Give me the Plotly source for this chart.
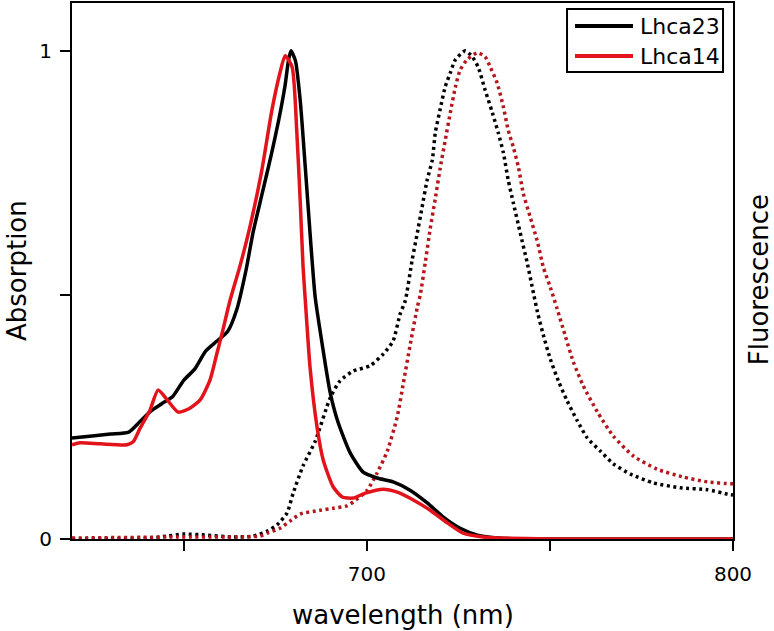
import plotly.graph_objects as go

# ---- Data ----
abs_lhca23_nm = [619.5, 625, 630, 635, 638, 641, 644, 647, 650, 653, 656, 659, 662, 664.5, 667, 669,
                 671.5, 674, 676, 677.7, 678.6, 679.3, 680.5, 681.8, 683.2, 684.5, 685.9, 687.8, 690,
                 692.2, 695.5, 699, 702.8, 707.2, 711.8, 716.5, 720.9, 725.5, 730.2, 736, 745, 760, 780, 800]
abs_lhca23_val = [0.207, 0.211, 0.215, 0.219, 0.240, 0.262, 0.277, 0.292, 0.325, 0.348, 0.385, 0.405, 0.425,
                  0.47, 0.55, 0.63, 0.71, 0.79, 0.86, 0.93, 0.98, 1.0, 0.98, 0.90, 0.762, 0.627, 0.496, 0.40,
                  0.30, 0.238, 0.176, 0.137, 0.125, 0.117, 0.10, 0.074, 0.045, 0.022, 0.008, 0.002, 0.0, 0.0,
                  0.0, 0.0]

abs_lhca14_nm = [619.5, 621.7, 627.2, 634.5, 636.2, 638.1, 640.8, 643.0, 645.5, 648.5, 651.7, 654.5, 657.2,
                 659.1, 660.5, 662.7, 665.4, 668.1, 671.2, 674.1, 676.3, 677.7, 679.6, 680.9, 681.8, 682.6,
                 683.2, 684.5, 686.4, 688.1, 690.8, 693.3, 696.3, 699.6, 704.5, 708.3, 712.7, 717.3, 722.0,
                 726.3, 731.8, 736.4, 750, 770, 800]
abs_lhca14_val = [0.193, 0.197, 0.195, 0.193, 0.199, 0.227, 0.264, 0.305, 0.285, 0.260, 0.268, 0.285, 0.326,
                  0.381, 0.422, 0.490, 0.560, 0.640, 0.75, 0.879, 0.955, 0.99, 0.967, 0.832, 0.695, 0.557,
                  0.49, 0.352, 0.230, 0.162, 0.107, 0.086, 0.084, 0.094, 0.102, 0.096, 0.080, 0.059, 0.033,
                  0.012, 0.004, 0.002, 0.0, 0.0, 0.0]

fl_lhca23_nm = [619.5, 630, 640.8, 645.5, 649.8, 656.4, 663.5, 669.0, 672.8, 675.5, 678.2, 679.9, 682.6,
                685.9, 690, 692.7, 696.3, 700.9, 704.5, 707.2, 709.1, 710.5, 712.4, 713.8, 715.1, 716.5,
                717.9, 718.7, 720.0, 721.4, 722.8, 724.2, 726.9, 728.8, 730.4, 732.3, 734.3, 735.9, 737.3,
                738.6, 740.0, 741.9, 743.8, 745.5, 746.6, 748.2, 750.1, 752.3, 754.7, 757.5, 760.2, 763.8,
                767.3, 772.0, 778.2, 785.6, 793.0, 798.5, 800]
fl_lhca23_val = [0.0, 0.001, 0.002, 0.006, 0.010, 0.008, 0.004, 0.006, 0.016, 0.029, 0.053, 0.094, 0.15,
                 0.20, 0.289, 0.324, 0.344, 0.355, 0.379, 0.406, 0.461, 0.488, 0.572, 0.627, 0.680, 0.736,
                 0.777, 0.832, 0.879, 0.926, 0.955, 0.982, 1.0, 0.988, 0.967, 0.920, 0.873, 0.832, 0.791,
                 0.736, 0.689, 0.627, 0.566, 0.504, 0.465, 0.418, 0.369, 0.324, 0.283, 0.242, 0.207, 0.180,
                 0.154, 0.133, 0.115, 0.105, 0.101, 0.092, 0.090]

fl_lhca14_nm = [619.5, 645.5, 670.9, 672.8, 676.3, 679.1, 681.8, 687.3, 690.8, 694.6, 696.3, 700.1, 702.8,
                705.6, 708.3, 710.0, 711.9, 713.8, 714.6, 716.0, 717.3, 718.7, 720.0, 721.4, 722.8, 724.2,
                725.5, 727.4, 730.2, 732.3, 733.7, 735.6, 737.3, 738.6, 740.0, 741.4, 742.7, 744.6, 746.6,
                748.2, 750.1, 752.0, 754.2, 756.4, 759.1, 763.0, 767.3, 772.8, 779.3, 786.4, 793.0, 799.3,
                800]
fl_lhca14_val = [0.002, 0.004, 0.006, 0.012, 0.022, 0.037, 0.051, 0.059, 0.063, 0.068, 0.076, 0.10, 0.135,
                 0.18, 0.25, 0.32, 0.40, 0.475, 0.50, 0.568, 0.635, 0.697, 0.758, 0.816, 0.873, 0.926,
                 0.961, 0.982, 0.996, 0.988, 0.967, 0.934, 0.885, 0.838, 0.803, 0.762, 0.709, 0.66, 0.609,
                 0.557, 0.516, 0.471, 0.416, 0.363, 0.314, 0.260, 0.211, 0.170, 0.143, 0.127, 0.117, 0.113,
                 0.113]

series_names = ["Lhca23", "Lhca14"]
x_tickvals = [650, 700, 750, 800]
x_ticktext = ["", "700", "", "800"]
y_tickvals = [0, 0.5, 1]
y_ticktext = ["0", "", "1"]

BLACK = "#000000"
RED = "#e3131b"
DARKRED = "#b5161b"
FONT = "DejaVu Sans, Arial, sans-serif"

fig = go.Figure()
fig.add_trace(go.Scatter(x=fl_lhca23_nm, y=fl_lhca23_val, mode="lines", showlegend=False,
                         line=dict(color=BLACK, width=3.5, dash="3px,3.5px", shape="spline", smoothing=0.6)))
fig.add_trace(go.Scatter(x=fl_lhca14_nm, y=fl_lhca14_val, mode="lines", showlegend=False,
                         line=dict(color=DARKRED, width=3.5, dash="3px,3.5px", shape="spline", smoothing=0.6)))
fig.add_trace(go.Scatter(x=abs_lhca23_nm, y=abs_lhca23_val, mode="lines", name=series_names[0],
                         showlegend=False,
                         line=dict(color=BLACK, width=3.5, shape="spline", smoothing=0.6)))
fig.add_trace(go.Scatter(x=abs_lhca14_nm, y=abs_lhca14_val, mode="lines", name=series_names[1],
                         showlegend=False,
                         line=dict(color=RED, width=3.5, shape="spline", smoothing=0.6)))

# plot area in pixels: x 72..733, y 3..539
annotations = [
    dict(text="Absorption", xref="paper", yref="paper", x=-0.0832, y=0.5, showarrow=False,
         textangle=-90, font=dict(size=26, family=FONT), xanchor="center", yanchor="middle"),
    dict(text="Fluorescence", xref="paper", yref="paper", x=1.0395, y=0.483, showarrow=False,
         textangle=-90, font=dict(size=26, family=FONT), xanchor="center", yanchor="middle"),
    dict(text="wavelength (nm)", xref="paper", yref="paper", x=0.5008, y=-0.142, showarrow=False,
         font=dict(size=26, family=FONT), xanchor="center", yanchor="middle"),
]
# manual legend (box, line samples, labels)
leg_colors = [BLACK, RED]
leg_y = [0.957, 0.9011]
shapes = [dict(type="rect", xref="paper", yref="paper", x0=0.7489, x1=0.9849, y0=0.8713, y1=0.9888,
               line=dict(color="black", width=2), fillcolor="white", layer="above")]
for name, col, yy in zip(series_names, leg_colors, leg_y):
    shapes.append(dict(type="line", xref="paper", yref="paper", x0=0.761, x1=0.8487, y0=yy, y1=yy,
                       line=dict(color=col, width=4), layer="above"))
    annotations.append(dict(text=name, xref="paper", yref="paper", x=0.8563, y=yy, showarrow=False,
                            xanchor="left", yanchor="middle", font=dict(size=22, family=FONT)))

fig.update_layout(
    width=774, height=631,
    margin=dict(l=72, r=41, t=3, b=92, autoexpand=False),
    paper_bgcolor="white", plot_bgcolor="white",
    font=dict(family=FONT, color="black"),
    showlegend=False,
    xaxis=dict(range=[619.5, 800], showgrid=False, zeroline=False, automargin=False,
               showline=True, linecolor="black", linewidth=2, mirror=True,
               ticks="outside", ticklen=10, tickwidth=2, tickcolor="black",
               tickvals=x_tickvals, ticktext=x_ticktext, tickfont=dict(size=20, family=FONT),
               ticklabelstandoff=6),
    yaxis=dict(range=[0, 1.098], showgrid=False, zeroline=False, automargin=False,
               showline=True, linecolor="black", linewidth=2, mirror=True,
               ticks="outside", ticklen=10, tickwidth=2, tickcolor="black",
               tickvals=y_tickvals, ticktext=y_ticktext, tickfont=dict(size=20, family=FONT),
               ticklabelstandoff=4),
    annotations=annotations,
    shapes=shapes,
)

fig.write_html("out.html", config={"displayModeBar": False},
               post_script="document.body.style.margin='0px';")
